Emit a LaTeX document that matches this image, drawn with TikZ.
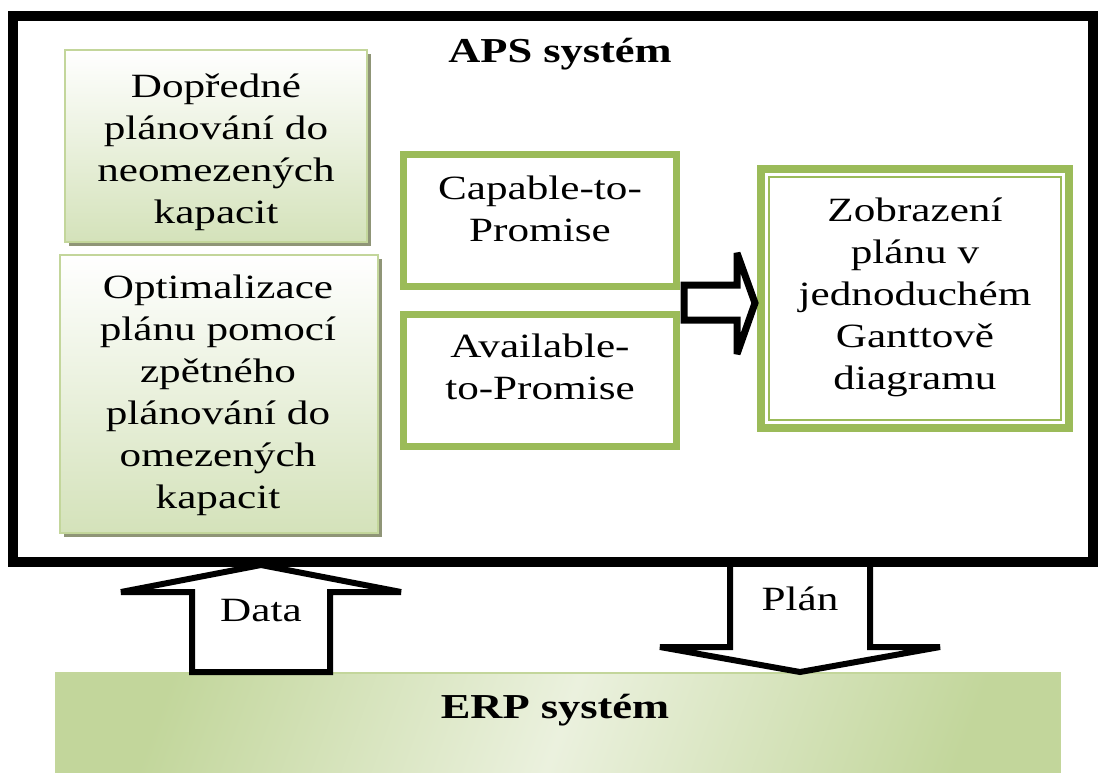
\documentclass[tikz,border=0pt]{standalone}
\usepackage{fontspec}
\setmainfont[FakeStretch=1.27]{Liberation Serif}
\usetikzlibrary{calc,shadows}
\definecolor{grn}{HTML}{9BBB59}
\definecolor{grnlite}{HTML}{C3D69B}
\definecolor{grnfill}{HTML}{D4E2BA}
\definecolor{erpD}{HTML}{C2D69B}
\definecolor{erpL}{HTML}{EBF1DE}
\definecolor{shadowc}{HTML}{8F9577}
\begin{document}
\begin{tikzpicture}[x=1pt,y=-1pt,
  bodytext/.style={font=\fontsize{34}{42}\selectfont, align=center, inner sep=0pt, anchor=north},
  labeltext/.style={font=\fontsize{34}{42}\selectfont, inner sep=0pt, anchor=base},
  titletext/.style={font=\bfseries\fontsize{35}{42}\selectfont, inner sep=0pt, anchor=base},
  softbox/.style={draw=grnlite, line width=2.5pt, top color=white, bottom color=grnfill,
    inner sep=0pt, outer sep=0pt,
    drop shadow={shadow xshift=4pt, shadow yshift=-4pt, fill=shadowc, opacity=1}},
  greenbox/.style={draw=grn, line width=7pt, fill=white, inner sep=0pt, outer sep=0pt},
  blockarrow/.style={draw=black, line width=6pt, fill=white, line join=miter, miter limit=2},
  apsframe/.style={draw=black, line width=10pt, inner sep=0pt, outer sep=0pt}
]
\clip (0,0) rectangle (1101,772);
\fill[white] (0,0) rectangle (1101,772);

% ERP system
\node[draw=grnlite, line width=1.5pt, top color=erpD, bottom color=erpD, middle color=erpL,
      shading angle=70, minimum width=1004pt, minimum height=130pt, inner sep=0pt,
      anchor=north] (erp) at (558,672) {};
\node[titletext] (erpt) at (555,718) {ERP systém};

% block arrows between systems
\coordinate (dataTip) at (261,565);
\coordinate (planTip) at (800,672);
\draw[blockarrow] (192,672) -- (192,592) -- (121,592) -- (dataTip) -- (401,592) -- (330,592) -- (330,672) -- cycle;
\draw[blockarrow] (730,560) -- (730,647) -- (660,647) -- (planTip) -- (940,647) -- (870,647) -- (870,560);
\node[labeltext] (datat) at (261,621) {Data};
\node[labeltext] (plant) at (800,610) {Plán};

% APS frame
\node[apsframe, minimum width=1080pt, minimum height=546pt] (aps) at (553,289) {};
\node[titletext] (apst) at (560,62) {APS systém};

% left boxes
\node[softbox, minimum width=302pt, minimum height=192pt] (fwd) at (216,146) {};
\node[bodytext] (fwdt) at (216,67.6) {\strut Dopředné\\plánování do\\neomezených\\kapacit};
\node[softbox, minimum width=318pt, minimum height=278pt] (opt) at (219,394) {};
\node[bodytext] (optt) at (218,268.6) {\strut Optimalizace\\plánu pomocí\\zpětného\\plánování do\\omezených\\kapacit};

% middle boxes
\node[greenbox, minimum width=273pt, minimum height=132pt] (cap) at (540,220.5) {};
\node[bodytext] (capt) at (540,169.6) {\strut Capable-to-\\Promise};
\node[greenbox, minimum width=273pt, minimum height=132pt] (avail) at (540,380) {};
\node[bodytext] (availt) at (540,327.6) {\strut Available-\\to-Promise};

% right box (double border)
\node[draw=grn, line width=8pt, fill=white, inner sep=0pt, outer sep=0pt,
      minimum width=308pt, minimum height=259pt] (zob) at (915,298.5) {};
\draw[grn, line width=2pt] ([shift={(8pt,-8pt)}]zob.north west) rectangle ([shift={(-8pt,8pt)}]zob.south east);
\node[bodytext] (zobt) at (915,191.6) {\strut Zobrazení\\plánu v\\jednoduchém\\Ganttově\\diagramu};

% arrow to the right box
\coordinate (midTip) at (755,303);
\draw[blockarrow, line width=7pt] (684,285) -- (737,285) -- (737,253) -- (midTip) -- (737,354) -- (737,320) -- (684,320) -- cycle;
\end{tikzpicture}
\end{document}
